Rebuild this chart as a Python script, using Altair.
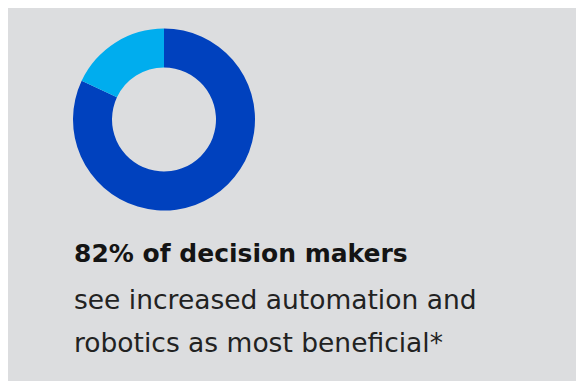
import altair as alt
import pandas as pd

segments = ["Decision makers favouring automation", "Others"]
shares = [82, 18]
seg_colors = ["#0041BE", "#00ADEE"]

headline = ["82% of decision makers"]
body_lines = ["see increased automation and", "robotics as most beneficial*"]

arc_df = pd.DataFrame({"segment": segments, "share": shares, "order": [0, 1]})

arc = alt.Chart(arc_df).mark_arc(outerRadius=91, innerRadius=52, stroke=None).encode(
    theta=alt.Theta("share:Q", stack=True),
    color=alt.Color("segment:N", scale=alt.Scale(domain=segments, range=seg_colors), legend=None),
    order=alt.Order("order:Q"),
    x=alt.value(156),
    y=alt.value(111.5),
)

head_df = pd.DataFrame({"t": headline})
head = alt.Chart(head_df).mark_text(
    align="left", baseline="alphabetic", font="DejaVu Sans", fontWeight="bold",
    fontSize=25, color="#141414"
).encode(text="t:N", x=alt.value(66), y=alt.value(254))

body_df = pd.DataFrame({"t": body_lines, "i": [0, 1]})
body = alt.Chart(body_df).mark_text(
    align="left", baseline="alphabetic", font="DejaVu Sans", fontSize=26.5, color="#222222"
).encode(
    text="t:N",
    x=alt.value(66),
    y=alt.Y("i:Q", scale=alt.Scale(domain=[0, 1], range=[301, 344]), axis=None),
)

chart = alt.layer(arc, head, body).properties(
    width=568, height=373, background="#DCDDDF", padding=0,
    autosize=alt.AutoSizeParams(type="none"),
).configure_view(stroke=None)

chart.save("out.html", embed_options={"renderer": "svg", "actions": False})
